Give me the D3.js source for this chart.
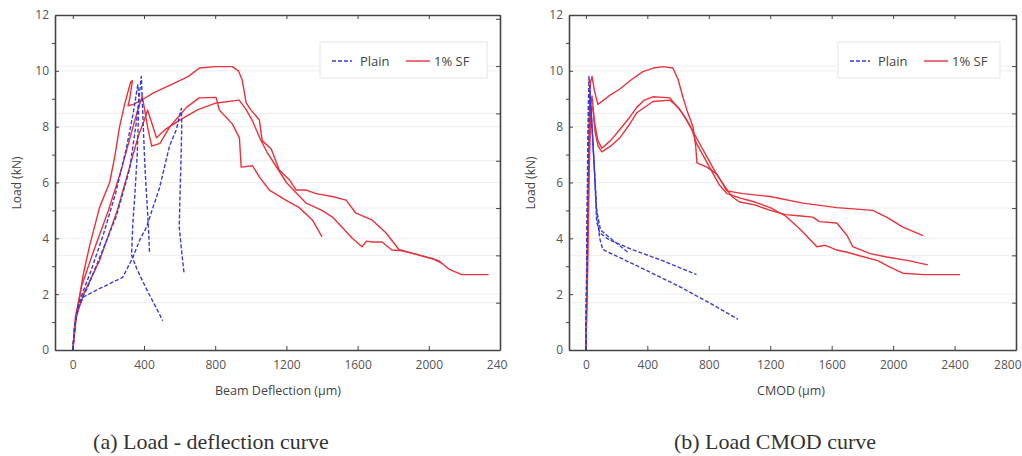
<!DOCTYPE html>
<html>
<head>
<meta charset="utf-8">
<script src="https://cdn.jsdelivr.net/npm/d3@7"></script>
<style>
  body { margin: 0; background: #fff; }
  svg { display: block; }
  .tick text { font-family: "Open Sans", sans-serif; font-size: 12px; fill: #555; }
</style>
</head>
<body>
<svg id="chart" width="1022" height="456"></svg>
<script>
// ---- data ----
var yTicks = [0, 2, 4, 6, 8, 10, 12];
var yMinor = [1, 3, 5, 7, 9, 11];
var defTicks = [0, 400, 800, 1200, 1600, 2000, 2400];
var cmodTicks = [0, 400, 800, 1200, 1600, 2000, 2400, 2800];
var legendNames = ["Plain", "1% SF"];
var captions = ["(a) Load - deflection curve", "(b) Load CMOD curve"];

// load vs beam deflection, plain concrete (um, kN)
var defPlain1 = [[0,0],[10,0.8],[30,1.6],[80,2.2],[150,3.3],[245,4.8],[320,6.5],[358,8.2],[385,9.8],[390,9.0],[396,8.0],[405,6.6],[414,5.6],[425,4.4],[431,3.5]];
var defPlain2 = [[0,0],[15,1],[40,1.8],[100,2.8],[170,4.1],[240,5.6],[300,7.2],[340,8.5],[365,9.5],[372,9.0],[362,7.0],[348,5.5],[337,4.5],[330,3.4],[360,2.9],[420,2.1],[470,1.5],[505,1.05]];
var defPlain3 = [[0,0],[10,0.9],[30,1.5],[60,1.9],[150,2.2],[280,2.6],[336,3.3],[380,4.0],[414,4.4],[450,5.1],[487,5.8],[543,7.3],[582,7.9],[600,8.4],[610,8.65],[612,8.0],[608,6.8],[602,5.5],[598,4.4],[612,3.5],[625,2.75]];
// load vs beam deflection, 1% steel fibre
var defSF1 = [[0,0],[15,1.0],[30,1.6],[60,2.75],[95,3.75],[150,5.1],[207,6.0],[235,6.9],[263,8.0],[291,8.8],[325,9.6],[335,9.65],[320,9.0],[310,8.75],[340,8.8],[400,9.0],[450,9.2],[550,9.5],[650,9.8],[711,10.1],[800,10.15],[896,10.15],[930,10.0],[952,9.67],[974,8.85],[1000,8.6],[1048,8.24],[1064,7.5],[1115,7.2],[1160,6.45],[1216,6.1],[1255,5.73],[1311,5.73],[1367,5.6],[1457,5.5],[1535,5.37],[1591,4.9],[1681,4.66],[1759,4.2],[1832,3.6],[1944,3.4],[2056,3.2],[2112,2.9],[2185,2.7],[2336,2.7]];
var defSF2 = [[0,0],[15,1.2],[50,2.3],[120,3.6],[200,5.0],[270,6.4],[330,7.8],[365,8.6],[390,9.1],[420,8.0],[443,7.3],[490,7.4],[545,8.0],[640,8.7],[710,9.03],[805,9.05],[823,8.6],[896,8.1],[936,7.6],[946,6.55],[1010,6.6],[1048,6.2],[1104,5.73],[1197,5.37],[1272,5.1],[1346,4.66],[1400,4.05]];
var defSF3 = [[0,0],[20,1.2],[60,2.0],[150,3.2],[250,5.0],[330,6.8],[370,7.7],[400,8.2],[420,8.6],[440,8.2],[470,7.6],[520,7.9],[617,8.3],[700,8.6],[806,8.85],[935,8.95],[975,8.6],[1010,8.2],[1050,7.6],[1090,7.1],[1140,6.6],[1200,6.0],[1260,5.6],[1311,5.26],[1400,5.0],[1457,4.77],[1513,4.4],[1570,4.0],[1625,3.7],[1650,3.9],[1681,3.87],[1737,3.87],[1793,3.58],[1850,3.55],[1950,3.4],[2030,3.25],[2075,3.1]];

// load vs CMOD, plain concrete
var cmodPlain1 = [[0,0],[5,3],[10,6],[15,8.5],[20,9.8],[35,8.5],[55,6.5],[70,4.6],[90,4.2],[150,3.95],[300,3.6],[500,3.2],[720,2.7]];
var cmodPlain2 = [[0,0],[8,4],[15,7.5],[25,9.3],[45,7.5],[70,5.0],[90,4.0],[110,3.6],[300,3.1],[600,2.3],[800,1.7],[990,1.1]];
var cmodPlain3 = [[0,0],[10,5],[20,8.5],[30,9.0],[50,7.0],[70,5.0],[95,4.3],[160,4.0],[273,3.5]];
// load vs CMOD, 1% steel fibre
var cmodSF1 = [[0,0],[8,3],[15,6],[22,8.5],[30,9.6],[40,9.8],[55,9.3],[78,8.8],[150,9.1],[221,9.35],[300,9.7],[371,9.97],[440,10.1],[501,10.15],[566,10.1],[600,9.7],[631,9.07],[657,8.6],[697,8.0],[715,7.3],[723,6.7],[788,6.55],[853,6.3],[918,5.7],[1022,5.6],[1198,5.5],[1413,5.26],[1634,5.1],[1868,5.0],[1960,4.75],[2064,4.4],[2194,4.1]];
var cmodSF2 = [[0,0],[10,3.5],[20,7],[30,8.8],[40,9.1],[55,8.2],[78,7.5],[104,7.23],[160,7.5],[221,7.9],[280,8.3],[332,8.7],[380,8.95],[436,9.07],[500,9.05],[547,9.03],[580,8.8],[612,8.6],[660,8.2],[700,7.8],[760,7.2],[800,6.8],[850,6.3],[900,5.9],[950,5.5],[1000,5.3],[1100,5.2],[1200,5.0],[1300,4.85],[1400,4.8],[1478,4.76],[1520,4.6],[1634,4.55],[1700,4.1],[1738,3.7],[1850,3.45],[1960,3.33],[2100,3.2],[2226,3.05]];
var cmodSF3 = [[0,0],[12,3],[22,6.5],[32,8.6],[45,8.7],[60,7.8],[80,7.3],[104,7.1],[160,7.3],[221,7.6],[280,8.05],[332,8.5],[436,8.9],[547,8.95],[600,8.7],[650,8.3],[690,7.9],[720,7.4],[770,6.9],[820,6.4],[870,5.9],[920,5.6],[1000,5.45],[1100,5.3],[1200,5.1],[1300,4.8],[1400,4.3],[1504,3.7],[1560,3.75],[1634,3.58],[1700,3.5],[1800,3.35],[1900,3.2],[1979,2.97],[2064,2.75],[2200,2.7],[2435,2.7]];

var red = "#e8323c", blue = "#3b3bd8", axisCol = "#444";

var svg = d3.select("#chart");

function drawPanel(p) {
  var g = svg.append("g").attr("clip-path", "url(#" + p.clip + ")");
  svg.append("clipPath").attr("id", p.clip)
    .append("rect").attr("x", p.clipX[0]).attr("y", 0)
    .attr("width", p.clipX[1] - p.clipX[0]).attr("height", 456);

  var x = d3.scaleLinear().domain(p.xDomain).range([p.left, p.right]);
  var y = d3.scaleLinear().domain([0, 12]).range([350, 15]);
  // second (unlabelled) right axis divisions
  var y2 = d3.scaleLinear().domain([0, 7.08]).range([350, 15]);

  // faint grid
  var grid = g.append("g");
  [2, 4, 6, 8, 10].forEach(function(v) {
    grid.append("line").attr("x1", p.left).attr("x2", p.right)
      .attr("y1", y(v)).attr("y2", y(v)).attr("stroke", "#eeeeee");
  });
  d3.range(1, 8).forEach(function(v) {
    grid.append("line").attr("x1", p.left).attr("x2", p.right)
      .attr("y1", y2(v)).attr("y2", y2(v)).attr("stroke", "#eeeeee");
  });

  // curves
  var line = d3.line().x(function(d) { return x(d[0]); }).y(function(d) { return y(d[1]); });
  var inner = g.append("g");
  p.sf.forEach(function(s) {
    inner.append("path").datum(s).attr("d", line)
      .attr("fill", "none").attr("stroke", red).attr("stroke-width", 1.4)
      .attr("stroke-linejoin", "round");
  });
  p.plain.forEach(function(s) {
    inner.append("path").datum(s).attr("d", line)
      .attr("fill", "none").attr("stroke", blue).attr("stroke-width", 1.4)
      .attr("stroke-dasharray", "4,2").attr("stroke-linejoin", "round");
  });

  // axes
  var fmt = d3.format("d");
  var bottom = g.append("g").attr("transform", "translate(0,350)")
    .call(d3.axisBottom(x).tickValues(p.xTicks).tickFormat(fmt)
      .tickSizeInner(-4).tickSizeOuter(0).tickPadding(10));
  var top = g.append("g").attr("transform", "translate(0,15)")
    .call(d3.axisTop(x).tickValues(p.xTicks).tickSizeInner(-4).tickSizeOuter(0).tickFormat(""));
  var leftAx = g.append("g").attr("transform", "translate(" + p.left + ",0)")
    .call(d3.axisLeft(y).tickValues(yTicks).tickSizeInner(-4).tickSizeOuter(0).tickPadding(6));
  var leftMinor = g.append("g").attr("transform", "translate(" + p.left + ",0)")
    .call(d3.axisLeft(y).tickValues(yMinor).tickSize(3).tickFormat(""));
  var rightAx = g.append("g").attr("transform", "translate(" + p.right + ",0)")
    .call(d3.axisRight(y2).tickValues(d3.range(1, 8)).tickSizeInner(-4).tickSizeOuter(0).tickFormat(""));

  [bottom, top, leftAx, leftMinor, rightAx].forEach(function(a) {
    a.select(".domain").attr("stroke", axisCol).attr("stroke-width", 1.6);
    a.selectAll(".tick line").attr("stroke", axisCol).attr("stroke-width", 1);
  });
  leftMinor.select(".domain").remove();

  // last x label sits at the picture edge: keep it inside
  if (p.pullLast) {
    bottom.selectAll(".tick").filter(function(d) { return d === p.xTicks[p.xTicks.length - 1]; })
      .select("text").attr("text-anchor", "end").attr("dx", 5);
  }

  // axis titles
  g.append("text").attr("x", p.yLabelX).attr("y", 183)
    .attr("transform", "rotate(-90," + p.yLabelX + ",183)")
    .attr("text-anchor", "middle").attr("font-family", "Open Sans, sans-serif")
    .attr("font-size", 12).attr("fill", "#444").text("Load (kN)");
  g.append("text").attr("x", p.xLabelX).attr("y", 395)
    .attr("text-anchor", "middle").attr("font-family", "Open Sans, sans-serif")
    .attr("font-size", 12.5).attr("fill", "#444").text(p.xLabel);

  // legend
  var lg = g.append("g").attr("transform", "translate(" + p.legend[0] + "," + p.legend[1] + ")");
  lg.append("rect").attr("width", p.legend[2]).attr("height", 36)
    .attr("fill", "#fff").attr("stroke", "#e4e4ea").attr("stroke-width", 1);
  lg.append("line").attr("x1", 12).attr("x2", 32).attr("y1", 19).attr("y2", 19)
    .attr("stroke", blue).attr("stroke-width", 1.4).attr("stroke-dasharray", "4,2");
  lg.append("text").attr("x", 40).attr("y", 23.5).attr("font-family", "Open Sans, sans-serif")
    .attr("font-size", 13).attr("fill", "#444").text(legendNames[0]);
  lg.append("line").attr("x1", 86).attr("x2", 110).attr("y1", 19).attr("y2", 19)
    .attr("stroke", red).attr("stroke-width", 1.4);
  lg.append("text").attr("x", 114).attr("y", 23.5).attr("font-family", "Open Sans, sans-serif")
    .attr("font-size", 13).attr("fill", "#444").text(legendNames[1]);

  // caption
  svg.append("text").attr("x", p.captionX).attr("y", 449)
    .attr("text-anchor", "middle").attr("font-family", "Liberation Serif, serif")
    .attr("font-size", 22).attr("fill", "#333").text(p.caption);
}

drawPanel({
  clip: "clipA", clipX: [0, 508],
  left: 55, right: 500, xDomain: [-100, 2400], xTicks: defTicks, pullLast: false,
  plain: [defPlain1, defPlain2, defPlain3], sf: [defSF1, defSF2, defSF3],
  yLabelX: 21, xLabelX: 278, xLabel: "Beam Deflection (\u00b5m)",
  legend: [320, 42, 167], captionX: 211, caption: captions[0]
});

drawPanel({
  clip: "clipB", clipX: [510, 1022],
  left: 569, right: 1016, xDomain: [-110, 2800], xTicks: cmodTicks, pullLast: true,
  plain: [cmodPlain1, cmodPlain2, cmodPlain3], sf: [cmodSF1, cmodSF2, cmodSF3],
  yLabelX: 535, xLabelX: 791, xLabel: "CMOD (\u00b5m)",
  legend: [838, 42, 162], captionX: 775, caption: captions[1]
});
</script>
</body>
</html>
